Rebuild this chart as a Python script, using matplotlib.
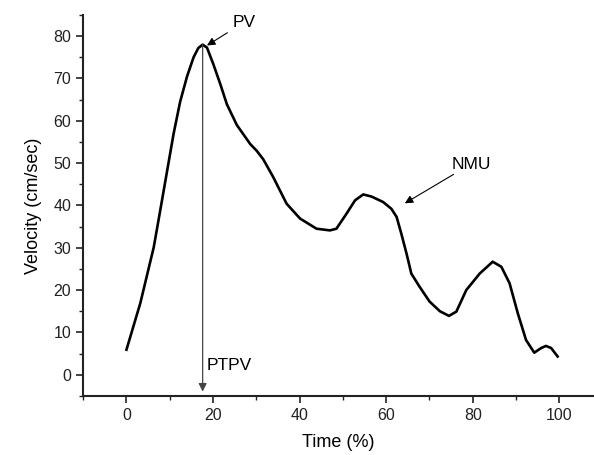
import matplotlib
matplotlib.use("Agg")
import matplotlib.pyplot as plt
from matplotlib.ticker import MultipleLocator

plt.rcParams['font.family'] = ['Liberation Sans', 'DejaVu Sans']

# 곡선 데이터 (Time %, Velocity cm/sec)
time_pct = [0, 3.2, 6.3, 7.8, 9.4, 10.9, 12.4, 14.0, 15.5, 16.6, 17.6, 18.6, 20.1, 21.7,
            23.2, 25.5, 28.6, 30.1, 31.6, 33.9, 37, 40.1, 43.9, 47, 48.5, 50.8, 52.8,
            54.7, 56.6, 59.3, 61.2, 62.4, 63.5, 64.7, 65.8, 67.7, 70, 72.4, 74.5, 76.2,
            78.5, 81.6, 84.6, 86.6, 88.5, 90.4, 92.3, 94.2, 95.8, 96.9, 98.1, 99.6]
velocity = [5.9, 16.9, 30.1, 38.8, 48.2, 57.0, 64.5, 70.5, 75.0, 77.2, 78.0, 77.3, 73.3,
            68.6, 63.9, 59.0, 54.5, 52.9, 50.9, 46.7, 40.4, 36.9, 34.5, 34.1, 34.5, 38,
            41.2, 42.6, 42.1, 40.8, 39.2, 37.3, 33.3, 28.6, 23.9, 20.8, 17.3, 15.0, 13.9,
            14.9, 20, 23.9, 26.7, 25.5, 21.6, 14.5, 8.2, 5.2, 6.3, 6.8, 6.3, 4.3]

# 주석 위치
pv_point = (17.6, 78.0)
pv_text = (24.5, 81.5)
ptpv_end = -4
nmu_point = (64.3, 40.5)
nmu_text = (75.0, 48.0)

fig = plt.figure(figsize=(5.94, 4.55), dpi=100)
ax = fig.add_axes([0.14, 0.13, 0.86, 0.837])

ax.plot(time_pct, velocity, color='black', lw=1.9, solid_joinstyle='round')

# PTPV 수직 화살표
ax.annotate('', xy=(pv_point[0], ptpv_end), xytext=pv_point,
            arrowprops=dict(arrowstyle='-|>', color='#444444', lw=0.9,
                            mutation_scale=12, shrinkA=0, shrinkB=0))
ax.text(pv_point[0] + 1.0, 0.3, 'PTPV', fontsize=12.5, ha='left', va='bottom')

# PV 화살표
ax.annotate('PV', xy=(pv_point[0] + 1.0, pv_point[1] - 0.2), xytext=pv_text,
            fontsize=12.5, ha='left', va='bottom',
            arrowprops=dict(arrowstyle='-|>', color='black', lw=0.8,
                            mutation_scale=12, shrinkA=2, shrinkB=0))

# NMU 화살표
ax.annotate('NMU', xy=nmu_point, xytext=nmu_text,
            fontsize=12.5, ha='left', va='bottom',
            arrowprops=dict(arrowstyle='-|>', color='black', lw=0.8,
                            mutation_scale=12, shrinkA=0, shrinkB=0))

ax.set_xlim(-10, 108)
ax.set_ylim(-5, 85)
ax.xaxis.set_major_locator(MultipleLocator(20))
ax.xaxis.set_minor_locator(MultipleLocator(10))
ax.yaxis.set_major_locator(MultipleLocator(10))
ax.yaxis.set_minor_locator(MultipleLocator(5))
ax.set_xticks(range(0, 101, 20))

for side in ['top', 'right']:
    ax.spines[side].set_visible(False)
for side in ['left', 'bottom']:
    ax.spines[side].set_linewidth(1.5)
    ax.spines[side].set_color('#222222')

ax.tick_params(which='major', direction='out', length=5, width=1.2, labelsize=11.5, colors='#222222')
ax.tick_params(which='minor', direction='out', length=3, width=1.0, colors='#222222')

ax.set_xlabel('Time (%)', fontsize=13, labelpad=8)
ax.set_ylabel('Velocity (cm/sec)', fontsize=13, labelpad=8)

plt.savefig('out.png', dpi=100)
